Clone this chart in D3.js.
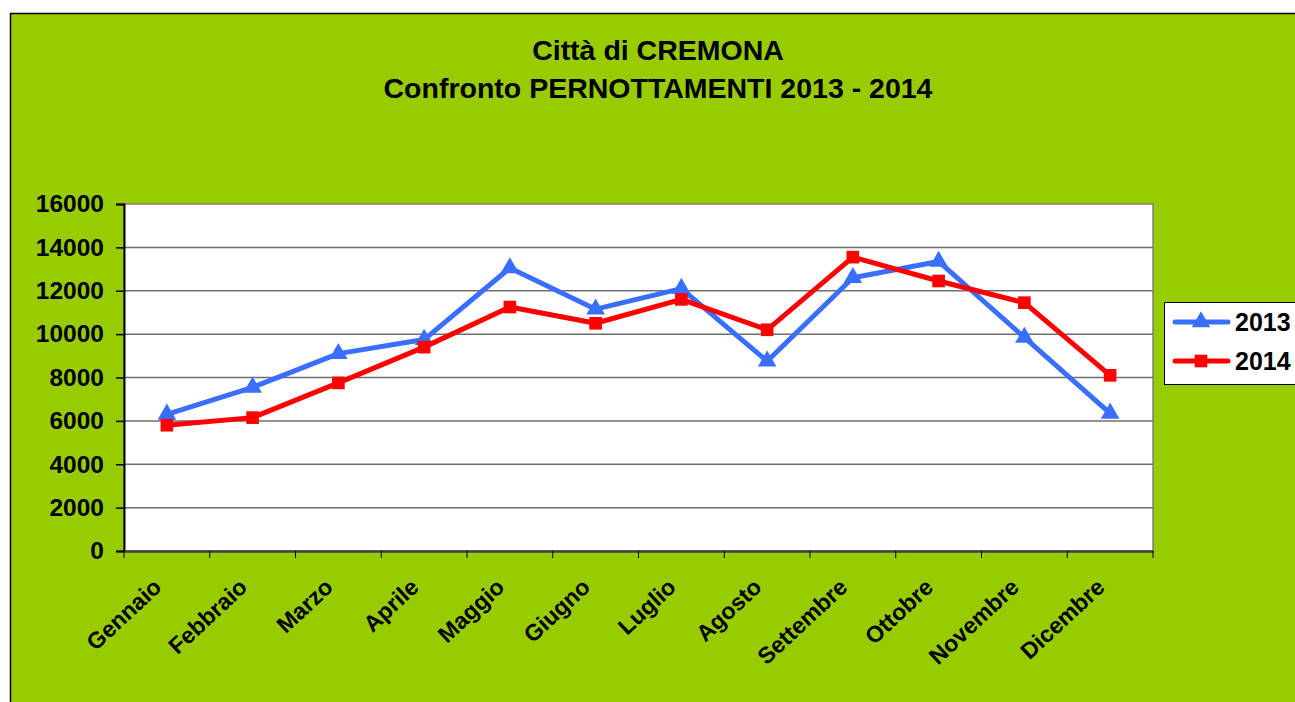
<!DOCTYPE html>
<html lang="it">
<head>
<meta charset="UTF-8">
<title>Città di CREMONA - Pernottamenti 2013 - 2014</title>
<script src="https://d3js.org/d3.v7.min.js"></script>
<style>
  body { margin: 0; background: #fff; }
  text { font-family: Arial, "Liberation Sans", sans-serif; font-weight: bold; }
</style>
</head>
<body>
<div id="chart"></div>
<script>
// Data
const months = ["Gennaio", "Febbraio", "Marzo", "Aprile", "Maggio", "Giugno",
                "Luglio", "Agosto", "Settembre", "Ottobre", "Novembre", "Dicembre"];
const values2013 = [6300, 7550, 9100, 9750, 13050, 11150, 12100, 8750, 12600, 13350, 9850, 6350];
const values2014 = [5800, 6150, 7750, 9400, 11250, 10500, 11600, 10200, 13550, 12450, 11450, 8100];
const yTicks = [0, 2000, 4000, 6000, 8000, 10000, 12000, 14000, 16000];
const titleLines = ["Città di CREMONA", "Confronto PERNOTTAMENTI 2013 - 2014"];

const series = [
  { name: "2013", values: values2013, color: "#3A6EFF", marker: "triangle" },
  { name: "2014", values: values2014, color: "#FF0000", marker: "square" }
];

const W = 1295, H = 702;
const plot = { left: 124, top: 204, right: 1153, bottom: 551 };

const svg = d3.select("#chart").append("svg")
  .attr("width", W)
  .attr("height", H);

// green chart area
svg.append("rect")
  .attr("x", 10.5).attr("y", 13.5)
  .attr("width", W + 20).attr("height", H + 20)
  .attr("fill", "#99CC00")
  .attr("stroke", "#000")
  .attr("stroke-width", 1.5);

// titles
svg.selectAll(".title")
  .data(titleLines)
  .enter()
  .append("text")
  .attr("x", 658)
  .attr("y", (d, i) => 60 + i * 38)
  .attr("text-anchor", "middle")
  .attr("font-size", 28.5)
  .attr("fill", "#000")
  .text(d => d);

const x = d3.scaleBand()
  .domain(months)
  .range([plot.left, plot.right]);

const y = d3.scaleLinear()
  .domain([0, 16000])
  .range([plot.bottom, plot.top]);

// plot area
svg.append("rect")
  .attr("x", plot.left).attr("y", plot.top)
  .attr("width", plot.right - plot.left)
  .attr("height", plot.bottom - plot.top)
  .attr("fill", "#fff")
  .attr("stroke", "#808080")
  .attr("stroke-width", 1.5);

// gridlines
svg.append("g")
  .selectAll("line")
  .data(yTicks.filter(d => d > 0 && d < 16000))
  .enter()
  .append("line")
  .attr("x1", plot.left).attr("x2", plot.right)
  .attr("y1", d => y(d)).attr("y2", d => y(d))
  .attr("stroke", "#6e6e6e")
  .attr("stroke-width", 1.5);

// y axis
const yAxis = svg.append("g")
  .attr("transform", `translate(${plot.left},0)`)
  .call(d3.axisLeft(y).tickValues(yTicks).tickSize(8).tickPadding(12).tickFormat(d3.format("d")));
yAxis.select(".domain").attr("stroke", "#000").attr("stroke-width", 2);
yAxis.selectAll(".tick line").attr("stroke", "#000").attr("stroke-width", 1.5);
yAxis.selectAll(".tick text")
  .attr("font-size", 24.5)
  .attr("font-family", "Arial, 'Liberation Sans', sans-serif")
  .attr("font-weight", "bold")
  .attr("fill", "#000");

// x axis
const xAxis = svg.append("g")
  .attr("transform", `translate(0,${plot.bottom})`)
  .call(d3.axisBottom(x).tickSize(0).tickFormat(""));
xAxis.select(".domain").attr("stroke", "#404040").attr("stroke-width", 2.5);

svg.append("g")
  .selectAll("line")
  .data(d3.range(months.length + 1))
  .enter()
  .append("line")
  .attr("x1", i => plot.left + i * x.bandwidth())
  .attr("x2", i => plot.left + i * x.bandwidth())
  .attr("y1", plot.bottom)
  .attr("y2", plot.bottom + 7)
  .attr("stroke", "#000")
  .attr("stroke-width", 1);

svg.append("g")
  .selectAll("text")
  .data(months)
  .enter()
  .append("text")
  .attr("transform", d => `translate(${x(d) + x.bandwidth() / 2 - 4},${plot.bottom + 38}) rotate(-43)`)
  .attr("text-anchor", "end")
  .attr("font-size", 23)
  .attr("fill", "#000")
  .text(d => d);

// lines and markers
const line = d3.line()
  .x((d, i) => x(months[i]) + x.bandwidth() / 2)
  .y(d => y(d));

const triangle = d3.symbol().type(d3.symbolTriangle).size(150);
const square = d3.symbol().type(d3.symbolSquare).size(160);

series.forEach(s => {
  svg.append("path")
    .datum(s.values)
    .attr("d", line)
    .attr("fill", "none")
    .attr("stroke", s.color)
    .attr("stroke-width", 5)
    .attr("stroke-linejoin", "round");

  svg.append("g")
    .selectAll("path")
    .data(s.values)
    .enter()
    .append("path")
    .attr("transform", (d, i) => `translate(${x(months[i]) + x.bandwidth() / 2},${y(d)})`)
    .attr("d", s.marker === "triangle" ? triangle : square)
    .attr("fill", s.color);
});

// legend
const legend = svg.append("g");
legend.append("rect")
  .attr("x", 1164.5).attr("y", 302.5)
  .attr("width", 150).attr("height", 82)
  .attr("fill", "#fff")
  .attr("stroke", "#000")
  .attr("stroke-width", 1);

series.forEach((s, i) => {
  const ly = 322 + i * 39;
  legend.append("line")
    .attr("x1", 1175).attr("x2", 1228)
    .attr("y1", ly).attr("y2", ly)
    .attr("stroke", s.color)
    .attr("stroke-width", 5)
    .attr("stroke-linecap", "round");
  legend.append("path")
    .attr("transform", `translate(1201,${ly})`)
    .attr("d", s.marker === "triangle" ? triangle : square)
    .attr("fill", s.color);
  legend.append("text")
    .attr("x", 1235)
    .attr("y", ly + 9)
    .attr("font-size", 25)
    .attr("fill", "#000")
    .text(s.name);
});
</script>
</body>
</html>
